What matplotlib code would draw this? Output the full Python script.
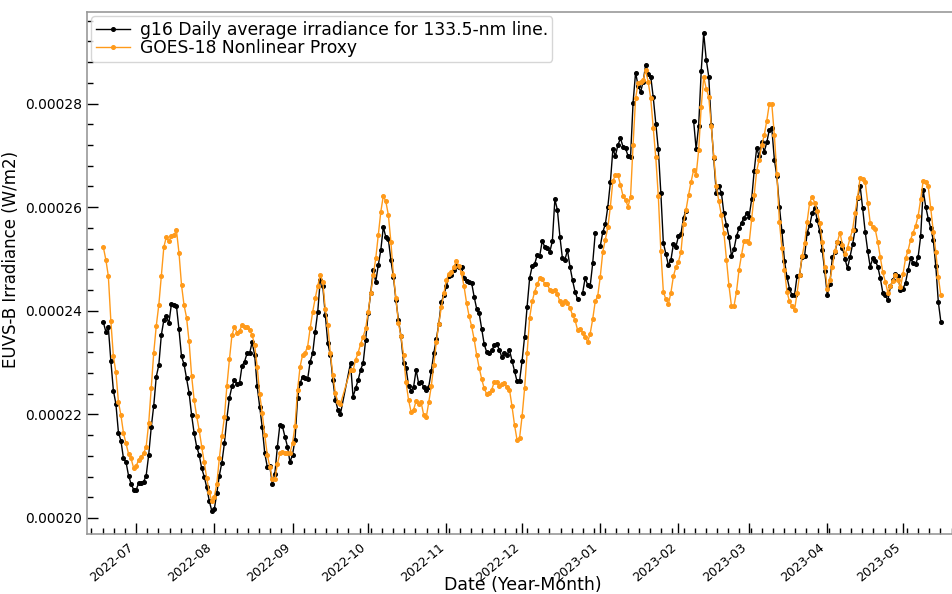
import numpy as np
import pandas as pd
import matplotlib
matplotlib.use("Agg")
import matplotlib.pyplot as plt
import matplotlib.dates as mdates
from matplotlib.ticker import AutoMinorLocator

# Daily values in micro-W/m2, 2022-06-18 .. 2023-05-16 (2022-09-21..23 absent)
start_date = "2022-06-18"
end_date = "2023-05-16"
absent_days = ["2022-09-21", "2022-09-22", "2022-09-23"]

g16_irr = [
    237.8, 236.0, 236.8, 230.3, 224.6, 222.0, 216.5, 214.9, 211.5, 210.8,
    208.2, 206.6, 205.5, 205.4, 206.7, 206.8, 207.0, 208.2, 212.2, 217.5,
    221.7, 227.3, 229.5, 235.3, 238.2, 238.9, 237.6, 241.3, 241.1, 240.9,
    236.4, 231.2, 229.7, 227.0, 224.2, 219.9, 216.4, 213.8, 212.2, 209.6,
    208.0, 205.9, 203.3, 201.4, 201.7, 204.8, 208.2, 210.7, 214.4, 219.3,
    223.2, 225.4, 226.7, 225.8, 226.0, 229.4, 230.2, 231.8, 231.8, 233.9,
    231.5, 225.4, 221.5, 217.5, 212.5, 209.9, 210.0, 206.6, 208.5, 213.7,
    218.0, 217.7, 215.7, 213.8, 210.8, 212.2, 215.1, 223.1, 226.0, 227.3,
    227.0, 226.8, 230.2, 231.8, 236.0, 239.8, 245.9, 244.8, 239.2, 233.7,
    231.5, 226.7, 222.8, 220.9, 220.1,
    229.9, 223.4, 225.0, 226.6, 228.6, 229.9, 234.4, 239.5, 243.4, 247.8,
    245.6, 248.8, 251.7, 256.2, 254.2, 253.8, 249.8, 246.6, 242.1, 238.2,
    235.1, 230.0, 229.0, 225.5, 224.6, 225.3, 228.6, 226.0, 226.3, 225.3,
    224.7, 225.3, 228.3,
    231.8, 234.5, 237.5, 241.7, 243.0, 244.8, 246.7, 247.0, 247.8, 248.7,
    248.4, 248.4, 246.4, 245.8, 245.5, 245.4, 242.7, 240.4, 239.5, 236.5,
    233.5, 232.0, 231.8, 232.4, 233.3, 233.5, 232.5, 231.0, 231.8, 231.5,
    232.4, 230.4, 228.4, 226.4, 226.4, 230.3, 235.0, 240.8, 246.3, 248.6,
    249.0, 250.8, 250.6, 253.5, 252.3, 252.1, 251.4, 253.4, 261.5, 259.5,
    254.3, 250.1, 249.9, 251.7, 248.5, 245.9, 243.7, 242.2, np.nan,
    243.4, 246.3, 245.0, 244.8, 249.2, 255.0, np.nan,
    252.5, 255.2, 256.7, 260.1, 264.8, 271.2, 269.9, 272.0, 273.3, 271.7,
    271.4, 269.9, 269.7, 280.2, 286.0, 283.4, 282.3, 284.2, 287.5, 285.8,
    285.2, 281.2, 276.1, 271.2, 262.8, 253.1, 251.0, 248.8, 249.8, 252.9,
    252.4, 254.4, 254.9, 258.0, 259.3, np.nan, np.nan,
    276.7, 271.2, 275.7, 286.2, 293.6, 288.5, 285.2, 275.9, 269.4, 262.7,
    264.0, 262.8, 258.8, 256.6, 254.3, 250.6, 251.9, 254.4, 255.9, 257.0,
    258.0, 258.8, 258.2, 261.5, 267.0, 271.4, 269.8, 272.6, 270.7, 272.5,
    274.9, 275.2, 269.2, 266.0,
    260.1, 255.4, 249.7, 246.5, 244.3, 243.0, 243.0, 246.7, 246.9, 250.4,
    250.6, 255.1, 256.5, 258.8, 259.9, 257.5, 255.4, 251.7, 247.6, 243.0,
    245.2, 250.3, 251.4, 253.3, 253.1, 252.2, 250.0, 248.2, 250.4, 252.8,
    255.6, 261.7, 264.1, 259.8, 255.3, 251.6, 248.5, 250.1, 249.7, 248.5,
    246.3, 243.5, 243.0, 242.0, 244.7, 246.0, 247.1, 246.7, 244.0, 244.3,
    245.4, 247.9, 250.1, 249.2, 249.0, 250.4, 254.4, 263.3, 260.1, 257.8,
    255.9, 253.7, 248.6, 241.7, 237.9,
]

proxy_irr = [
    252.3, 249.9, 246.7, 238.0, 231.2, 228.1, 222.4, 219.8, 216.4, 214.4,
    212.4, 211.5, 209.7, 210.0, 211.2, 211.8, 212.5, 213.8, 218.3, 225.0,
    231.9, 237.1, 241.1, 246.7, 252.3, 254.3, 253.4, 254.5, 254.6, 255.5,
    251.2, 245.0, 241.1, 238.7, 234.1, 227.5, 222.8, 219.7, 217.0, 213.8,
    210.8, 207.7, 205.1, 203.2, 204.1, 206.6, 211.5, 215.8, 219.4, 225.5,
    230.6, 235.3, 236.9, 235.8, 236.1, 237.3, 236.8, 236.9, 236.3, 235.3,
    233.4, 229.2, 223.9, 220.2, 216.0, 212.2, 209.9, 207.6, 207.5, 210.4,
    212.5, 212.7, 212.6, 212.5, 212.6, 214.4, 217.8, 224.7, 229.2, 231.5,
    231.9, 233.1, 236.6, 239.8, 242.4, 244.8, 246.9, 245.6, 240.3, 237.3,
    231.8, 227.6, 224.1, 222.3, 222.0,
    228.6, 228.5, 230.5, 231.9, 233.6, 235.0, 236.6, 239.8, 243.4, 246.9,
    250.1, 254.6, 259.1, 262.2, 261.1, 258.5, 253.3, 246.9, 242.4, 237.6,
    235.1, 231.5, 226.2, 222.8, 220.5, 220.9, 222.6, 222.0, 222.3, 219.9,
    219.4, 222.3, 225.4,
    229.5, 234.0, 237.5, 240.7, 243.4, 246.0, 247.1, 247.4, 248.5, 249.6,
    248.6, 247.2, 244.7, 241.5, 239.0, 237.0, 234.5, 231.5, 229.0, 226.8,
    225.0, 223.9, 224.2, 224.8, 226.3, 226.2, 225.4, 225.8, 226.0, 225.2,
    224.8, 221.6, 218.0, 215.1, 215.4, 219.6, 225.0, 231.8, 238.6, 241.8,
    243.7, 245.1, 246.3, 246.1, 245.2, 245.1, 244.0, 243.9, 244.0, 243.2,
    241.8, 241.3, 241.9, 241.5, 240.5, 239.2, 238.2, 236.3, 236.4, 235.8,
    235.0,
    234.0, 235.6, 238.4, 241.8, 242.9, 246.6, 251.4, 253.7, 256.1, 260.1,
    265.1, 266.2, 266.2, 264.3, 262.2, 261.4, 260.1, 262.0, 272.0, 281.0,
    284.0, 284.2, 284.6, 286.4, 284.2, 281.0, 275.2, 269.6, 262.2, 251.6,
    243.7, 242.2, 241.3, 243.5, 246.7, 248.5, 249.5, 251.4, 256.8, 259.5,
    262.4, 264.9, 267.2, 266.2, 271.0, 279.3, 285.1, 282.9, 281.3, 275.7,
    269.6, 264.1, 261.1, 258.5, 255.1, 249.9, 244.9, 240.9, 240.9, 243.7,
    247.9, 250.8, 253.5, 253.5, 253.0, 257.7, 262.4, 267.0, 269.2, 272.0,
    273.9, 276.7, 279.9, 279.9, 273.9, 266.5,
    257.2, 252.1, 247.9, 243.7, 241.8, 240.9, 240.1, 243.4, 246.9, 250.5,
    253.0, 257.2, 260.9, 262.0, 260.9, 259.3, 257.0, 253.3, 248.4, 244.3,
    245.9, 248.5, 251.6, 253.3, 255.1, 252.7, 250.9, 252.2,
    254.0, 255.6, 258.9, 261.9, 265.6, 265.4, 264.9, 260.9, 257.0, 256.2,
    255.7, 253.3, 250.3, 247.4, 245.6, 243.5, 244.8, 245.8, 246.9, 245.9,
    244.6,
    247.1, 250.1, 251.6, 253.7, 255.1, 256.4, 258.3, 261.5, 265.1, 264.9,
    264.0, 259.8, 255.3, 251.4, 246.5, 243.0,
]

dates = pd.date_range(start_date, end_date, freq="D").drop(pd.to_datetime(absent_days))
g16 = np.array(g16_irr) * 1e-6
proxy = np.array(proxy_irr) * 1e-6

fig = plt.figure(figsize=(9.53, 5.94), dpi=100)
W, H = 953.0, 594.0
ax = fig.add_axes([87 / W, 1 - 534 / H, (958 - 87) / W, (534 - 12) / H])

ax.plot(dates, g16, color="black", lw=1.0, marker="o", ms=2.6,
        label="g16 Daily average irradiance for 133.5-nm line.")
ax.plot(dates, proxy, color="#ff9a1a", lw=1.0, marker="o", ms=2.6,
        label="GOES-18 Nonlinear Proxy")

t0 = pd.Timestamp(start_date)
ax.set_xlim(t0 - pd.Timedelta(days=6.46), t0 + pd.Timedelta(days=338.8))
ax.set_ylim(1.9691e-4, 2.9768e-4)

ax.xaxis.set_major_locator(mdates.MonthLocator())
ax.xaxis.set_major_formatter(mdates.DateFormatter("%Y-%m"))
ax.xaxis.set_minor_locator(AutoMinorLocator(7))
ax.yaxis.set_major_locator(plt.MultipleLocator(2e-5))
ax.yaxis.set_minor_locator(AutoMinorLocator(5))
ax.yaxis.set_major_formatter(plt.FuncFormatter(lambda v, p: f"{v:.5f}"))

ax.tick_params(which="major", direction="in", length=8, width=1, labelsize=10)
ax.tick_params(axis="x", which="major", pad=5, labelsize=9)
ax.tick_params(which="minor", direction="in", length=4, width=1)
for lab in ax.get_xticklabels():
    lab.set_rotation(40)
    lab.set_ha("right")

for s in ax.spines.values():
    s.set_color("#999999")
    s.set_linewidth(1.2)

ax.set_xlabel("Date (Year-Month)", fontsize=12.5)
ax.xaxis.set_label_coords(0.5, (534 - 576) / (534 - 12))
ax.set_ylabel("EUVS-B Irradiance (W/m2)", fontsize=12)
ax.yaxis.set_label_coords((20 - 87) / (958 - 87), (534 - 259) / (534 - 12))
ax.legend(loc="upper left", fontsize=12.3, borderaxespad=0.25,
          labelspacing=0.05, borderpad=0.25, handletextpad=0.6)

fig.savefig("out.png", dpi=100)
